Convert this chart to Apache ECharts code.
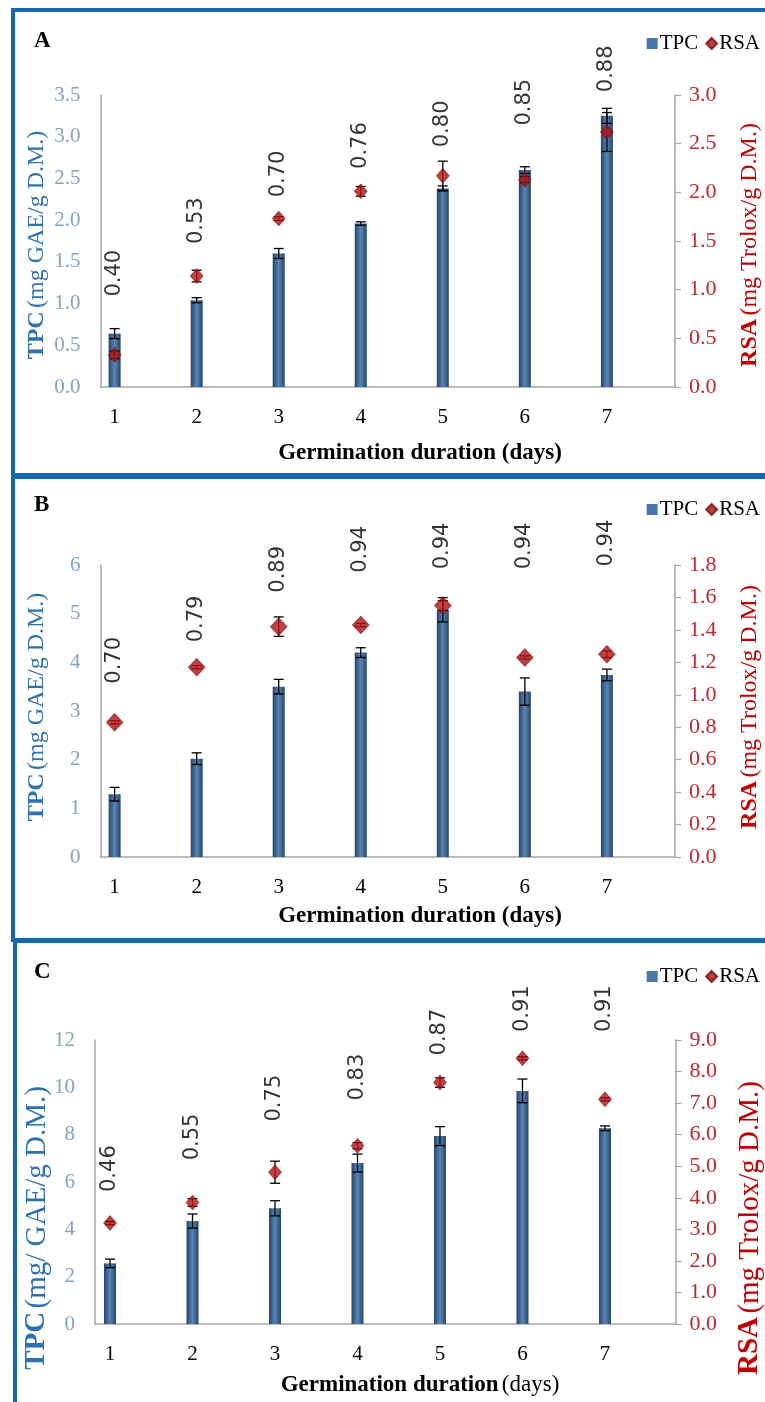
<!DOCTYPE html>
<html>
<head>
<meta charset="utf-8">
<script src="https://cdn.jsdelivr.net/npm/echarts@6/dist/echarts.min.js"></script>
<style>
html,body{margin:0;padding:0;background:#fff;}
#chart{width:765px;height:1402px;}
</style>
</head>
<body>
<div id="chart"></div>
<script>
// ---------- data ----------
const days = [1, 2, 3, 4, 5, 6, 7];

const tpcA    = [0.64, 1.04, 1.60, 1.96, 2.38, 2.60, 3.25];
const tpcErrA = [0.06, 0.03, 0.06, 0.02, 0.03, 0.04, 0.09];
const rsaA    = [0.33, 1.14, 1.73, 2.01, 2.17, 2.13, 2.62];
const rsaErrA = [0.04, 0.06, 0.02, 0.05, 0.15, 0.03, 0.20];
const rA      = ['0.40', '0.53', '0.70', '0.76', '0.80', '0.85', '0.88'];
const rAtA    = [1.34, 1.97, 2.53, 2.87, 3.13, 3.39, 3.79];

const tpcB    = [1.29, 2.02, 3.50, 4.20, 5.08, 3.40, 3.74];
const tpcErrB = [0.14, 0.12, 0.15, 0.10, 0.25, 0.28, 0.12];
const rsaB    = [0.83, 1.17, 1.42, 1.43, 1.55, 1.23, 1.25];
const rsaErrB = [0.01, 0.01, 0.06, 0.01, 0.03, 0.01, 0.02];
const rB      = ['0.70', '0.79', '0.89', '0.94', '0.94', '0.94', '0.94'];
const rAtB    = [4.00, 4.85, 5.87, 6.28, 6.35, 6.35, 6.41];

const tpcC    = [2.56, 4.35, 4.89, 6.80, 7.94, 9.85, 8.27];
const tpcErrC = [0.18, 0.30, 0.32, 0.38, 0.40, 0.50, 0.10];
const rsaC    = [3.20, 3.85, 4.81, 5.65, 7.65, 8.42, 7.12];
const rsaErrC = [0.05, 0.12, 0.35, 0.10, 0.15, 0.05, 0.05];
const rC      = ['0.46', '0.55', '0.75', '0.83', '0.87', '0.91', '0.91'];
const rAtC    = [6.48, 7.82, 9.46, 10.35, 12.25, 13.24, 13.24];

// ---------- layout / style ----------
const SERIF = '"Liberation Serif", "Times New Roman", serif';
const SANS = '"DejaVu Sans", Verdana, sans-serif';
const FRAME = '#1766b3';
const AXIS = '#a6a6a6';
const LBLUE = '#87a2bd';
const TBLUE = '#2f71ad';
const LRED = '#c0282d';
const TRED = '#c00000';

const panels = [
  { letter: 'A', tpc: tpcA, tpcErr: tpcErrA, rsa: rsaA, rsaErr: rsaErrA, r: rA, rAt: rAtA,
    grid: { left: 100.5, top: 95, width: 574.5, height: 292 }, xmin: 0.828, xmax: 7.83,
    lmax: 3.5, lint: 0.5, ldec: 1, rmax: 3.0, rint: 0.5, rdec: 1, sym: [13, 15],
    frame: { x: 13, y: 10, h: 465 }, letterY: 30, legendTop: 28, titleY: 453,
    yTitleFont: 24, yTitleY: 245, tpcUnit: '(mg GAE/g D.M.)', daysBold: true },
  { letter: 'B', tpc: tpcB, tpcErr: tpcErrB, rsa: rsaB, rsaErr: rsaErrB, r: rB, rAt: rAtB,
    grid: { left: 100.5, top: 565, width: 574.5, height: 292 }, xmin: 0.828, xmax: 7.83,
    lmax: 6, lint: 1, ldec: 0, rmax: 1.8, rint: 0.2, rdec: 1, sym: [17, 18],
    frame: { x: 13, y: 477, h: 463 }, letterY: 494, legendTop: 494, titleY: 916,
    yTitleFont: 24, yTitleY: 707, tpcUnit: '(mg GAE/g D.M.)', daysBold: true },
  { letter: 'C', tpc: tpcC, tpcErr: tpcErrC, rsa: rsaC, rsaErr: rsaErrC, r: rC, rAt: rAtC,
    grid: { left: 95, top: 1040, width: 580.5, height: 284 }, xmin: 0.818, xmax: 7.855,
    lmax: 12, lint: 2, ldec: 0, rmax: 9, rint: 1, rdec: 1, sym: [13, 15],
    frame: { x: 15, y: 941, h: 480 }, letterY: 961, legendTop: 961, titleY: 1385,
    yTitleFont: 29, yTitleY: 1228, tpcUnit: '(mg/ GAE/g D.M.)', daysBold: false }
];

function errRender(params, api) {
  const x = api.value(0), y = api.value(1), e = api.value(2);
  const t = api.coord([x, y + e]), b = api.coord([x, y - e]);
  const hw = 5;
  const st = { stroke: '#000', lineWidth: 1.3 };
  return { type: 'group', children: [
    { type: 'line', shape: { x1: t[0], y1: t[1], x2: b[0], y2: b[1] }, style: st },
    { type: 'line', shape: { x1: t[0] - hw, y1: t[1], x2: t[0] + hw, y2: t[1] }, style: st },
    { type: 'line', shape: { x1: b[0] - hw, y1: b[1], x2: b[0] + hw, y2: b[1] }, style: st }
  ]};
}

const barColor = new echarts.graphic.LinearGradient(0, 0, 1, 0, [
  { offset: 0, color: '#24456a' }, { offset: 0.35, color: '#4873a0' },
  { offset: 0.5, color: '#5a85b2' }, { offset: 0.65, color: '#4873a0' },
  { offset: 1, color: '#24456a' }
]);
const diamondColor = new echarts.graphic.RadialGradient(0.5, 0.5, 0.6, [
  { offset: 0, color: '#c41619' }, { offset: 1, color: '#860a0d' }
]);

const grids = [], xAxes = [], yAxes = [], series = [], legends = [], graphics = [];

panels.forEach((p, i) => {
  grids.push(Object.assign({}, p.grid));
  xAxes.push({
    type: 'value', gridIndex: i, min: p.xmin, max: p.xmax, splitNumber: 7,
    axisLine: { show: true, onZero: false, lineStyle: { color: AXIS, width: 1.5 } },
    axisTick: { show: false }, splitLine: { show: false },
    axisLabel: { color: '#000', fontFamily: SERIF, fontSize: 21, margin: 20,
      formatter: v => (Math.abs(v - Math.round(v)) < 1e-6 ? String(Math.round(v)) : '') }
  });
  yAxes.push({
    type: 'value', gridIndex: i, position: 'left', min: 0, max: p.lmax, interval: p.lint,
    axisLine: { show: true, lineStyle: { color: AXIS, width: 1.5 } },
    axisTick: { show: false }, splitLine: { show: false },
    axisLabel: { color: LBLUE, fontFamily: SERIF, fontSize: 21, margin: 20,
      formatter: v => v.toFixed(p.ldec) }
  });
  yAxes.push({
    type: 'value', gridIndex: i, position: 'right', min: 0, max: p.rmax, interval: p.rint,
    axisLine: { show: true, lineStyle: { color: AXIS, width: 1.5 } },
    axisTick: { show: true, inside: false, length: 6, lineStyle: { color: AXIS, width: 1.2 } },
    splitLine: { show: false },
    axisLabel: { color: LRED, fontFamily: SERIF, fontSize: 22, margin: 14,
      formatter: v => v.toFixed(p.rdec) }
  });
  const ly = 2 * i, ry = 2 * i + 1;
  series.push({
    name: 'TPC', type: 'bar', xAxisIndex: i, yAxisIndex: ly, barWidth: 12,
    data: days.map((d, k) => [d, p.tpc[k]]),
    itemStyle: { color: barColor }, z: 2
  });
  series.push({
    type: 'custom', xAxisIndex: i, yAxisIndex: ly, renderItem: errRender, z: 3,
    encode: { x: 0, y: 1 }, data: days.map((d, k) => [d, p.tpc[k], p.tpcErr[k]])
  });
  series.push({
    type: 'custom', xAxisIndex: i, yAxisIndex: ry, renderItem: errRender, z: 3,
    encode: { x: 0, y: 1 }, data: days.map((d, k) => [d, p.rsa[k], p.rsaErr[k]])
  });
  series.push({
    name: 'RSA', type: 'scatter', xAxisIndex: i, yAxisIndex: ry, symbol: 'diamond',
    symbolSize: p.sym, z: 4, data: days.map((d, k) => [d, p.rsa[k]]),
    itemStyle: { color: diamondColor, borderColor: '#7a0a0c', borderWidth: 0.6 }
  });
  series.push({
    type: 'scatter', xAxisIndex: i, yAxisIndex: ly, symbolSize: 0, z: 5, clip: false,
    silent: true, data: days.map((d, k) => [d, p.rAt[k], p.r[k]]),
    label: { show: true, position: 'inside', rotate: 90, formatter: q => q.data[2],
      fontFamily: SANS, fontSize: 21, color: '#000', offset: [2, 0] }
  });
  legends.push({
    right: 0, top: p.legendTop, orient: 'horizontal', itemWidth: 11, itemHeight: 11,
    itemGap: 7, selectedMode: false,
    textStyle: { fontFamily: SERIF, fontSize: 21, color: '#000', padding: [0, 0, 0, -3] },
    data: [
      { name: 'TPC', icon: 'rect', itemStyle: { color: '#4a78a8' } },
      { name: 'RSA', icon: 'diamond', itemStyle: { color: '#a50f12' } }
    ]
  });
  // frame
  graphics.push({ type: 'rect', shape: { x: p.frame.x, y: p.frame.y, width: 820, height: p.frame.h },
    style: { fill: 'none', stroke: FRAME, lineWidth: 4 }, z: 10 });
  // panel letter
  graphics.push({ type: 'text', x: 34, y: p.letterY,
    style: { text: p.letter, fontFamily: SERIF, fontWeight: 'bold', fontSize: 23, fill: '#000' } });
  // x title
  graphics.push({ type: 'text', x: 420, y: p.titleY,
    style: {
      text: p.daysBold ? '{b|Germination duration (days)}' : '{b|Germination duration} {n|(days)}',
      align: 'center', verticalAlign: 'middle',
      rich: { b: { fontFamily: SERIF, fontWeight: 'bold', fontSize: 23, fill: '#000' },
              n: { fontFamily: SERIF, fontSize: 23, fill: '#000' } }
    } });
  // left y title
  graphics.push({ type: 'text', x: 37, y: p.yTitleY, rotation: Math.PI / 2,
    style: {
      text: '{b|TPC} {n|' + p.tpcUnit + '}', align: 'center', verticalAlign: 'middle',
      rich: { b: { fontFamily: SERIF, fontWeight: 'bold', fontSize: p.yTitleFont, fill: TBLUE },
              n: { fontFamily: SERIF, fontSize: p.yTitleFont, fill: TBLUE } }
    } });
  // right y title
  graphics.push({ type: 'text', x: 750, y: p.yTitleY, rotation: Math.PI / 2,
    style: {
      text: '{b|RSA} {n|(mg Trolox/g D.M.)}', align: 'center', verticalAlign: 'middle',
      rich: { b: { fontFamily: SERIF, fontWeight: 'bold', fontSize: p.yTitleFont, fill: TRED },
              n: { fontFamily: SERIF, fontSize: p.yTitleFont, fill: TRED } }
    } });
});

const chart = echarts.init(document.getElementById('chart'), null, { renderer: 'canvas' });
chart.setOption({
  backgroundColor: '#ffffff',
  animation: false,
  grid: grids, xAxis: xAxes, yAxis: yAxes, series: series, legend: legends,
  graphic: graphics
});
</script>
</body>
</html>
